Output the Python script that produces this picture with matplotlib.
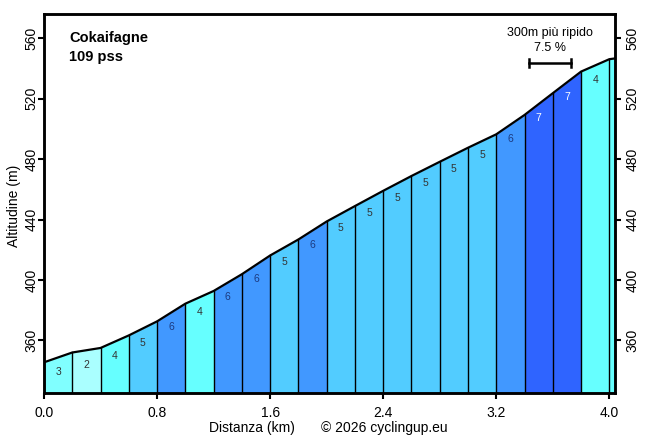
import matplotlib
matplotlib.use("Agg")
import matplotlib.pyplot as plt

plt.rcParams['font.family'] = ['Liberation Sans', 'DejaVu Sans']

# Data
dist_km = [0.0, 0.2, 0.4, 0.6, 0.8, 1.0, 1.2, 1.4, 1.6, 1.8, 2.0, 2.2, 2.4, 2.6,
           2.8, 3.0, 3.2, 3.4, 3.6, 3.8, 4.0, 4.04]
elev_m = [345.5, 352.0, 355.0, 363.3, 372.6, 384.3, 392.7, 403.8, 416.2, 426.8,
          438.7, 448.9, 459.0, 468.8, 478.2, 487.5, 496.4, 509.2, 523.6, 537.9,
          546.1, 546.6]
grade_labels = [3, 2, 4, 5, 6, 4, 6, 6, 5, 6, 5, 5, 5, 5, 5, 5, 6, 7, 7, 4, None]
seg_grade = [3, 2, 4, 5, 6, 4, 6, 6, 5, 6, 5, 5, 5, 5, 5, 5, 6, 7, 7, 4, 4]
x_ticks = [0.0, 0.8, 1.6, 2.4, 3.2, 4.0]
y_ticks = [360, 400, 440, 480, 520, 560]

grade_colors = {2: '#aaffff', 3: '#80ffff', 4: '#66ffff', 5: '#52ccff',
                6: '#4198ff', 7: '#2f64ff'}
text_colors = {2: '#333333', 3: '#333333', 4: '#333333', 5: '#333333',
               6: '#1c3a80', 7: 'white'}

ymin, ymax = 325, 576

fig = plt.figure(figsize=(6.56, 4.40), dpi=100)
ax = fig.add_axes([44/656, (440-393.3)/440, (615-44)/656, (393.3-14)/440])

for i in range(len(dist_km) - 1):
    x0, x1 = dist_km[i], dist_km[i+1]
    e0, e1 = elev_m[i], elev_m[i+1]
    g = seg_grade[i]
    ax.fill_between([x0, x1], [e0, e1], ymin, color=grade_colors[g], linewidth=0, zorder=1)
    lab = grade_labels[i]
    if lab is not None:
        xm = (x0 + x1) / 2
        em = (e0 + e1) / 2
        ax.text(xm, em - 9.5, str(lab), ha='center', va='center', fontsize=7.5,
                color=text_colors[lab], zorder=4)

for i in range(1, len(dist_km) - 1):
    ax.plot([dist_km[i], dist_km[i]], [ymin, elev_m[i]], color='black', lw=1.0, zorder=2)

ax.plot(dist_km, elev_m, color='black', lw=1.6, zorder=3)

ax.set_xlim(0, dist_km[-1])
ax.set_ylim(ymin, ymax)
ax.set_xticks(x_ticks)
ax.set_xticklabels([f"{t:.1f}" for t in x_ticks])
ax.set_yticks(y_ticks)
ax.tick_params(axis='both', direction='out', length=4, width=1.5, labelsize=10)
ax.tick_params(axis='x', pad=5)
ax.tick_params(axis='y', labelrotation=90, pad=0)
for lbl in ax.yaxis.get_ticklabels(which='both'):
    lbl.set_verticalalignment('center')
for s in ax.spines.values():
    s.set_linewidth(1.8)

ax2 = ax.twinx()
ax2.set_ylim(ymin, ymax)
ax2.set_yticks(y_ticks)
ax2.tick_params(axis='y', direction='out', length=4, width=1.5, labelsize=10,
                labelrotation=90, pad=3.5)
for lbl in ax2.yaxis.get_ticklabels(which='both'):
    lbl.set_verticalalignment('center')
for s in ax2.spines.values():
    s.set_linewidth(1.8)

fig.text(14/656, 1 - 206/440, 'Altitudine (m)', rotation=90, ha='center', va='center', fontsize=10)

fig.text(252/656, 1 - 428/440, 'Distanza (km)', ha='center', va='center', fontsize=10)
fig.text(384/656, 1 - 428/440, '\u00a9 2026 cyclingup.eu', ha='center', va='center', fontsize=10)

ax.text(0.177, 560.3, 'Cokaifagne', ha='left', va='center', fontsize=10.5, fontweight='bold')
ax.text(0.177, 547.7, '109 pss', ha='left', va='center', fontsize=10.5, fontweight='bold')

bx0, bx1, by = 3.43, 3.73, 543.7
ax.plot([bx0, bx1], [by, by], color='black', lw=1.8, zorder=5)
ax.plot([bx0, bx0], [by - 2.8, by + 2.8], color='black', lw=1.8, zorder=5)
ax.plot([bx1, bx1], [by - 2.8, by + 2.8], color='black', lw=1.8, zorder=5)
ax.text((bx0 + bx1) / 2, 563.2, '300m più ripido', ha='center', va='center', fontsize=9)
ax.text((bx0 + bx1) / 2, 553.6, '7.5 %', ha='center', va='center', fontsize=9)

fig.savefig('out.png', dpi=100)
